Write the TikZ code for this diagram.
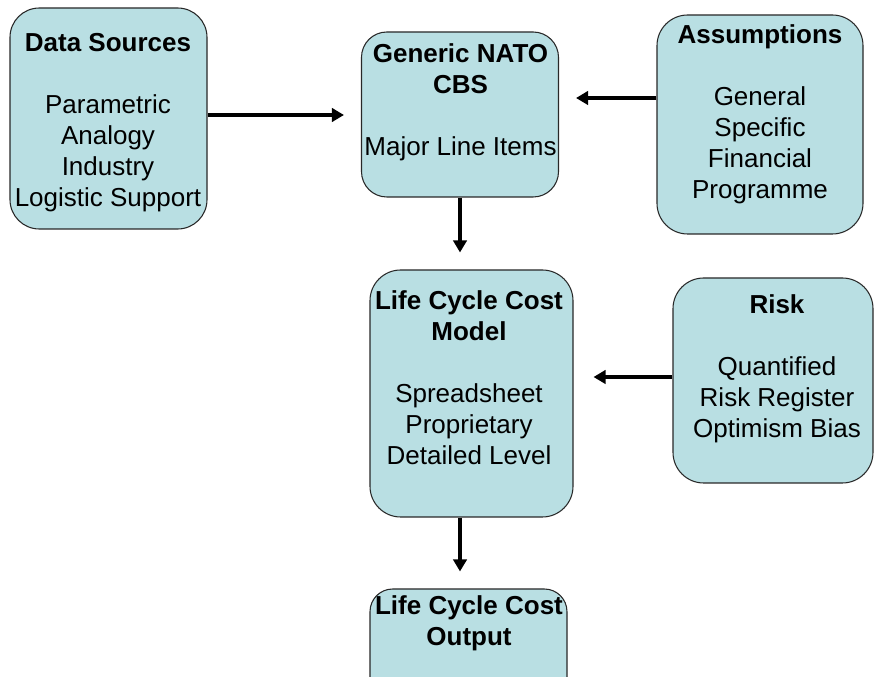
\documentclass[tikz,border=0pt]{standalone}
\usepackage{fontspec}
\setmainfont{Liberation Sans}
\usetikzlibrary{arrows.meta}
\definecolor{boxfill}{RGB}{185,223,227}
\definecolor{boxline}{RGB}{40,40,40}
\begin{document}
\begin{tikzpicture}[x=0.75pt,y=-0.75pt,
  box/.style={draw=boxline, line width=0.8pt, fill=boxfill, inner sep=0pt},
  txt/.style={anchor=north, inner sep=0pt, align=center,
    font=\fontsize{19.5pt}{23.25pt}\selectfont},
  arr/.style={line width=2.6pt, -{Triangle[length=9pt,width=10pt]}}]
\useasboundingbox (0,0) rectangle (876,677);
\clip (0,0) rectangle (876,677);
% boxes
\node[box, rounded corners=22pt, minimum width=147.75pt, minimum height=165.75pt] (ds) at (108.5,118.5) {};
\node[box, rounded corners=19pt, minimum width=147.75pt, minimum height=123.75pt] (cbs) at (460,114.5) {};
\node[box, rounded corners=23pt, minimum width=154.5pt, minimum height=164.25pt] (asm) at (760,124.5) {};
\node[box, rounded corners=23pt, minimum width=152.25pt, minimum height=185.25pt] (lcc) at (471.5,393.5) {};
\node[box, rounded corners=23pt, minimum width=150pt, minimum height=153.75pt] (risk) at (773,380.5) {};
\node[box, rounded corners=17pt, minimum width=147.75pt, minimum height=83.25pt] (out) at (468.5,644.5) {};
% texts
\node[txt] (dst) at (108,33) {\textbf{Data Sources}\\[23.25pt]Parametric\\Analogy\\Industry\\Logistic Support};
\node[txt] (cbst) at (460.5,43) {\textbf{Generic NATO}\\\textbf{CBS}\\[23.25pt]Major Line Items};
\node[txt] (asmt) at (760,24) {\textbf{Assumptions}\\[23.25pt]General\\Specific\\Financial\\Programme};
\node[txt] (lcct) at (469,290) {\textbf{Life Cycle Cost}\\\textbf{Model}\\[23.25pt]Spreadsheet\\Proprietary\\Detailed Level};
\node[txt] (riskt) at (777,294) {\textbf{Risk}\\[23.25pt]Quantified\\Risk Register\\Optimism Bias};
\node[txt] (outt) at (469,595) {\textbf{Life Cycle Cost}\\\textbf{Output}};
% connectors
\draw[arr, shorten >=12.75pt] (ds.east |- 0,115) -- (cbs.west |- 0,115);
\draw[arr, shorten >=12.75pt] (asm.west |- 0,98) -- (cbs.east |- 0,98);
\draw[arr, shorten >=12.75pt] (cbs.south) -- (cbs.south |- lcc.north);
\draw[arr, shorten >=15pt] (risk.west |- 0,377) -- (lcc.east |- 0,377);
\draw[arr, shorten >=12.75pt] (cbs.south |- lcc.south) -- (cbs.south |- out.north);
\end{tikzpicture}
\end{document}
